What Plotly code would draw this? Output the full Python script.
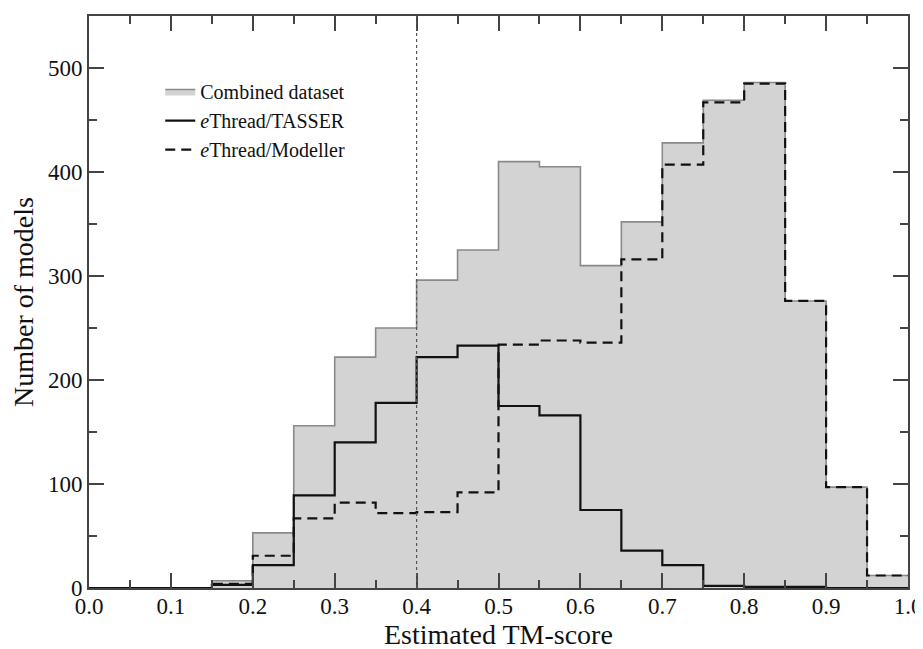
import plotly.graph_objects as go

# Histogram data (bin left edges, width 0.05)
bin_left = [0.00, 0.05, 0.10, 0.15, 0.20, 0.25, 0.30, 0.35, 0.40, 0.45,
            0.50, 0.55, 0.60, 0.65, 0.70, 0.75, 0.80, 0.85, 0.90, 0.95]
bin_right_end = 1.0
combined = [0, 0, 0, 7, 53, 156, 222, 250, 296, 325,
            410, 405, 310, 352, 428, 469, 486, 276, 97, 12]
tasser = [0, 0, 0, 3, 22, 89, 140, 178, 222, 233,
          175, 166, 75, 36, 22, 2, 1, 1, 0, 0]
modeller = [0, 0, 0, 4, 31, 67, 82, 72, 73, 92,
            234, 238, 236, 316, 407, 467, 485, 276, 97, 12]
threshold = 0.4

x_tick_vals = [0.0, 0.1, 0.2, 0.3, 0.4, 0.5, 0.6, 0.7, 0.8, 0.9, 1.0]
x_tick_text = ["0.0", "0.1", "0.2", "0.3", "0.4", "0.5", "0.6", "0.7", "0.8", "0.9", "1.0"]
y_tick_vals = [0, 100, 200, 300, 400, 500]

x_title = "Estimated TM-score"
y_title = "Number of models"

FONT = "Liberation Serif"


def step(vals):
    return bin_left + [bin_right_end], vals + [vals[-1]]


fig = go.Figure()

xs, ys = step(combined)
fig.add_trace(go.Scatter(
    x=xs, y=ys, mode="lines", line_shape="hv",
    fill="tozeroy", fillcolor="#d3d3d3",
    line=dict(color="#8a8a8a", width=1.6),
    name="Combined dataset", legendrank=1,
))

xs, ys = step(modeller)
fig.add_trace(go.Scatter(
    x=xs, y=ys, mode="lines", line_shape="hv",
    line=dict(color="#111111", width=2.2, dash="10px,6px"),
    name="<i>e</i>Thread/Modeller", legendrank=3,
))

xs, ys = step(tasser)
fig.add_trace(go.Scatter(
    x=xs, y=ys, mode="lines", line_shape="hv",
    line=dict(color="#111111", width=2.2),
    name="<i>e</i>Thread/TASSER", legendrank=2,
))

fig.add_shape(type="line", xref="x", yref="paper",
              x0=threshold, x1=threshold, y0=0, y1=1,
              line=dict(color="#555555", width=1.2, dash="dot"))

axis_common = dict(
    showgrid=False, zeroline=False, showline=True, automargin=False,
    linecolor="#444444", linewidth=2, mirror="ticks",
    ticks="inside", ticklen=15, tickwidth=1.6, tickcolor="#444444",
    tickfont=dict(family=FONT, size=23, color="#111111"),
)

fig.update_xaxes(
    range=[0, 1.0], tickvals=x_tick_vals, ticktext=x_tick_text,
    ticklabelstandoff=-4,
    minor=dict(dtick=0.05, ticks="inside", ticklen=8, tickwidth=1.6, tickcolor="#444444"),
    **axis_common,
)
fig.update_yaxes(
    range=[0, 550], tickvals=y_tick_vals,
    minor=dict(dtick=50, ticks="inside", ticklen=8, tickwidth=1.6, tickcolor="#444444"),
    **axis_common,
)

# Axis titles
fig.add_annotation(text=x_title, xref="paper", yref="paper", x=0.5, y=0,
                   xanchor="center", yanchor="middle", yshift=-46, showarrow=False,
                   font=dict(family=FONT, size=28, color="#111111"))
fig.add_annotation(text=y_title, xref="paper", yref="paper", x=0, y=0.5,
                   xanchor="center", yanchor="middle", xshift=-66, textangle=-90,
                   showarrow=False, font=dict(family=FONT, size=28, color="#111111"))

fig.update_layout(
    width=915, height=641,
    margin=dict(l=81, r=15, t=8, b=61),
    plot_bgcolor="white", paper_bgcolor="white",
    showlegend=True,
    legend=dict(
        x=0.087, y=0.902, xanchor="left", yanchor="top",
        bgcolor="rgba(0,0,0,0)", borderwidth=0,
        font=dict(family=FONT, size=20, color="#111111"),
        itemwidth=30, tracegroupgap=0,
    ),
)

fig.write_html("out.html")
